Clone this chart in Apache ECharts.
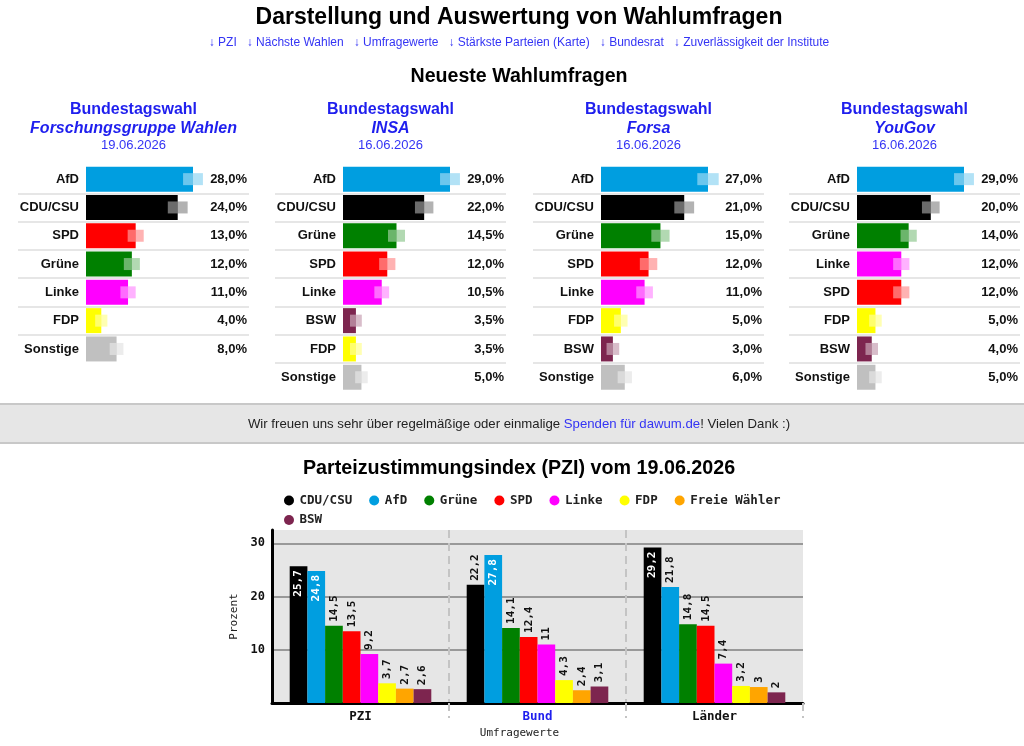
<!DOCTYPE html>
<html>
<head>
<meta charset="utf-8">
<script src="https://cdn.jsdelivr.net/npm/echarts@6/dist/echarts.min.js"></script>
<style>
  html, body { margin: 0; padding: 0; background: #fff; }
  #main { width: 1024px; height: 746px; }
</style>
</head>
<body>
<div id="main"></div>
<script>
// Umfragen (Bundestagswahl)
const fgwParties = ['AfD', 'CDU/CSU', 'SPD', 'Grüne', 'Linke', 'FDP', 'Sonstige'];
const fgwValues = [28, 24, 13, 12, 11, 4, 8];
const fgwMargins = [2.6, 2.6, 2.1, 2.1, 2.0, 1.6, 1.8];

const insaParties = ['AfD', 'CDU/CSU', 'Grüne', 'SPD', 'Linke', 'BSW', 'FDP', 'Sonstige'];
const insaValues = [29, 22, 14.5, 12, 10.5, 3.5, 3.5, 5];
const insaMargins = [2.7, 2.5, 2.3, 2.2, 2.0, 1.6, 1.6, 1.7];

const forsaParties = ['AfD', 'CDU/CSU', 'Grüne', 'SPD', 'Linke', 'FDP', 'BSW', 'Sonstige'];
const forsaValues = [27, 21, 15, 12, 11, 5, 3, 6];
const forsaMargins = [2.7, 2.5, 2.3, 2.2, 2.1, 1.7, 1.6, 1.8];

const yougovParties = ['AfD', 'CDU/CSU', 'Grüne', 'Linke', 'SPD', 'FDP', 'BSW', 'Sonstige'];
const yougovValues = [29, 20, 14, 12, 12, 5, 4, 5];
const yougovMargins = [2.7, 2.4, 2.2, 2.2, 2.2, 1.7, 1.7, 1.7];

const institutes = ['Forschungsgruppe Wahlen', 'INSA', 'Forsa', 'YouGov'];
const pollDates = ['19.06.2026', '16.06.2026', '16.06.2026', '16.06.2026'];

// PZI
const pziGroups = ['PZI', 'Bund', 'Länder'];
const pziParties = ['CDU/CSU', 'AfD', 'Grüne', 'SPD', 'Linke', 'FDP', 'Freie Wähler', 'BSW'];
const pziCdu = [25.7, 22.2, 29.2];
const pziAfd = [24.8, 27.8, 21.8];
const pziGruene = [14.5, 14.1, 14.8];
const pziSpd = [13.5, 12.4, 14.5];
const pziLinke = [9.2, 11, 7.4];
const pziFdp = [3.7, 4.3, 3.2];
const pziFw = [2.7, 2.4, 3];
const pziBsw = [2.6, 3.1, 2];
const pziTicks = [10, 20, 30];

const SANS = 'Liberation Sans';
const MONO = 'DejaVu Sans Mono';
const BLUE = '#1f1fee';

const partyColors = {
  'AfD': '#009ee0',
  'CDU/CSU': '#000000',
  'SPD': '#ff0000',
  'Grüne': '#008000',
  'Linke': '#ff00ff',
  'FDP': '#ffff00',
  'BSW': '#7d254f',
  'Sonstige': '#c0c0c0',
  'Freie Wähler': '#ffa500'
};

const fmtPct = v => v.toFixed(1).replace('.', ',') + '%';
const fmtNum = v => String(v).replace('.', ',');

const polls = [
  { parties: fgwParties, values: fgwValues, margins: fgwMargins },
  { parties: insaParties, values: insaValues, margins: insaMargins },
  { parties: forsaParties, values: forsaValues, margins: forsaMargins },
  { parties: yougovParties, values: yougovValues, margins: yougovMargins }
];

// Layout der vier Tabellen
const panelLeft = [18, 275, 533, 789];
const panelW = 231;
const labelW = 68;
const barMaxW = 107;
const rowH = 28.3;

let grid = [], xAxis = [], yAxis = [], series = [], graphic = [];

polls.forEach((p, i) => {
  const n = p.values.length;
  grid.push({ left: panelLeft[i], top: 165, width: panelW, height: n * rowH, outerBoundsMode: 'none' });
  const k = barMaxW / Math.max(...p.values);
  xAxis.push({ type: 'value', gridIndex: i, min: -labelW / k, max: (panelW - labelW) / k, show: false });
  // Parteinamen links vor dem Balken
  yAxis.push({
    type: 'category', gridIndex: i, data: p.parties, inverse: true,
    axisLine: { show: false, onZero: false }, axisTick: { show: false },
    axisLabel: { interval: 0, inside: true, margin: labelW - 7, align: 'right', fontFamily: SANS, fontWeight: 'bold', fontSize: 13, color: '#111' },
    splitLine: { show: true, showMinLine: false, showMaxLine: false, lineStyle: { color: '#dedede', width: 1.5 } }
  });
  // Prozentwerte rechts
  yAxis.push({
    type: 'category', gridIndex: i, data: p.parties, inverse: true, position: 'right',
    axisLine: { show: false, onZero: false }, axisTick: { show: false }, splitLine: { show: false },
    axisLabel: {
      interval: 0, inside: true, margin: 2, fontFamily: SANS, fontWeight: 'bold', fontSize: 13, color: '#111',
      formatter: (v, idx) => fmtPct(p.values[idx])
    }
  });

  series.push({
    type: 'bar', xAxisIndex: i, yAxisIndex: 2 * i, barWidth: 25, silent: true,
    data: p.values.map((v, j) => ({ value: v, itemStyle: { color: partyColors[p.parties[j]] } }))
  });
  // Fehlerbereich (halbtransparent)
  series.push({
    type: 'bar', xAxisIndex: i, yAxisIndex: 2 * i + 1, stack: 'ci' + i, barWidth: 12, silent: true,
    itemStyle: { color: 'rgba(0,0,0,0)' },
    data: p.values.map((v, j) => v - p.margins[j])
  });
  series.push({
    type: 'bar', xAxisIndex: i, yAxisIndex: 2 * i + 1, stack: 'ci' + i, barWidth: 12, silent: true,
    itemStyle: { color: 'rgba(255,255,255,0.42)' },
    data: p.margins
  });
  series.push({
    type: 'bar', xAxisIndex: i, yAxisIndex: 2 * i + 1, stack: 'ci' + i, barWidth: 12, silent: true,
    data: p.margins.map((m, j) => ({ value: m, itemStyle: { color: partyColors[p.parties[j]], opacity: 0.3 } }))
  });

  const cx = panelLeft[i] + panelW / 2;
  graphic.push({ type: 'text', x: cx, y: 109.5, style: { text: 'Bundestagswahl', fill: BLUE, fontFamily: SANS, fontWeight: 'bold', fontSize: 16, align: 'center', verticalAlign: 'middle' } });
  graphic.push({ type: 'text', x: cx, y: 128.5, style: { text: institutes[i], fill: BLUE, fontFamily: SANS, fontWeight: 'bold', fontStyle: 'italic', fontSize: 16, align: 'center', verticalAlign: 'middle' } });
  graphic.push({ type: 'text', x: cx, y: 145.5, style: { text: pollDates[i], fill: '#3434f4', fontFamily: SANS, fontSize: 13, align: 'center', verticalAlign: 'middle' } });
});

// Kopfzeilen
graphic.push({ type: 'text', x: 519, y: 18, style: { text: 'Darstellung und Auswertung von Wahlumfragen', fill: '#000', fontFamily: SANS, fontWeight: 'bold', fontSize: 23, align: 'center', verticalAlign: 'middle' } });
graphic.push({ type: 'text', x: 519, y: 42.5, style: { text: '↓ PZI   ↓ Nächste Wahlen   ↓ Umfragewerte   ↓ Stärkste Parteien (Karte)   ↓ Bundesrat   ↓ Zuverlässigkeit der Institute', fill: '#3434f4', fontFamily: SANS, fontSize: 12, align: 'center', verticalAlign: 'middle' } });
graphic.push({ type: 'text', x: 519, y: 76.5, style: { text: 'Neueste Wahlumfragen', fill: '#000', fontFamily: SANS, fontWeight: 'bold', fontSize: 19.6, align: 'center', verticalAlign: 'middle' } });

// Spendenleiste
graphic.push({ type: 'rect', shape: { x: -3, y: 404, width: 1030, height: 39 }, style: { fill: '#e6e6e6', stroke: '#c8c8c8', lineWidth: 2 } });
graphic.push({
  type: 'text', x: 519, y: 424, z: 10,
  style: {
    text: 'Wir freuen uns sehr über regelmäßige oder einmalige {l|Spenden für dawum.de}! Vielen Dank :)',
    fill: '#222', fontFamily: SANS, fontSize: 13.2, align: 'center', verticalAlign: 'middle',
    rich: { l: { fill: '#3434f4', fontFamily: SANS, fontSize: 13.2 } }
  }
});
graphic.push({ type: 'text', x: 519, y: 469, style: { text: 'Parteizustimmungsindex (PZI) vom 19.06.2026', fill: '#000', fontFamily: SANS, fontWeight: 'bold', fontSize: 19.7, align: 'center', verticalAlign: 'middle' } });

// PZI-Diagramm
const pziSeriesData = [pziCdu, pziAfd, pziGruene, pziSpd, pziLinke, pziFdp, pziFw, pziBsw];
const labelInside = { position: 'insideTop', rotate: 90, align: 'right', verticalAlign: 'middle', distance: 4, color: '#fff' };
const labelOutside = { position: 'top', rotate: 90, align: 'left', verticalAlign: 'middle', distance: 4, color: '#111' };

grid.push({ left: 272, right: 221, top: 530, bottom: 43, show: true, backgroundColor: '#e6e6e6', borderWidth: 0, outerBoundsMode: 'none' });
xAxis.push({
  type: 'category', gridIndex: 4, data: pziGroups,
  axisLine: { lineStyle: { color: '#000', width: 3 } },
  axisTick: { show: true, length: 15, interval: idx => idx > 0, lineStyle: { color: '#c4c4c4', width: 2, type: [8, 5] } },
  axisLabel: {
    margin: 7, fontFamily: MONO, fontWeight: 'bold', fontSize: 12.5,
    color: (v) => v === 'Bund' ? BLUE : '#111'
  },
  splitLine: { show: true, showMinLine: false, showMaxLine: false, lineStyle: { color: '#c4c4c4', width: 2, type: [8, 5] } },
  name: 'Umfragewerte', nameLocation: 'middle', nameGap: 25,
  nameTextStyle: { fontFamily: MONO, fontSize: 11, color: '#222', padding: [0, 36, 0, 0] }
});
yAxis.push({
  type: 'value', gridIndex: 4, min: 0, max: 32.5, interval: 10,
  axisLine: { show: true, lineStyle: { color: '#000', width: 3 } },
  axisTick: { show: false },
  axisLabel: {
    margin: 7, fontFamily: MONO, fontWeight: 'bold', fontSize: 12, color: '#111',
    showMinLabel: false, showMaxLabel: false,
    formatter: v => pziTicks.includes(v) ? String(v) : ''
  },
  splitLine: { show: true, showMinLine: false, showMaxLine: false, lineStyle: { color: '#999', width: 2 } },
  name: 'Prozent', nameLocation: 'middle', nameGap: 26, nameRotate: 90,
  nameTextStyle: { fontFamily: MONO, fontSize: 11, color: '#222' }
});

pziParties.forEach((name, s) => {
  series.push({
    name: name, type: 'bar', xAxisIndex: 4, yAxisIndex: 8,
    barGap: 0, barCategoryGap: '20%',
    itemStyle: { color: partyColors[name] },
    label: { show: true, fontFamily: MONO, fontWeight: 'bold', fontSize: 11, formatter: p => fmtNum(p.value) },
    data: pziSeriesData[s].map(v => ({ value: v, label: v >= 24 ? labelInside : labelOutside }))
  });
});

const legendText = { fontFamily: MONO, fontWeight: 'bold', fontSize: 12.5, color: '#222' };

const chart = echarts.init(document.getElementById('main'), null, { renderer: 'canvas' });
chart.setOption({
  backgroundColor: '#ffffff',
  animation: false,
  legend: [
    { data: pziParties.slice(0, 7), left: 279, top: 489, icon: 'circle', itemWidth: 11, itemHeight: 10, itemGap: 17, textStyle: legendText, selectedMode: false },
    { data: pziParties.slice(7), left: 279, top: 508.5, icon: 'circle', itemWidth: 11, itemHeight: 10, itemGap: 17, textStyle: legendText, selectedMode: false }
  ],
  grid: grid,
  xAxis: xAxis,
  yAxis: yAxis,
  series: series,
  graphic: graphic
});
</script>
</body>
</html>
